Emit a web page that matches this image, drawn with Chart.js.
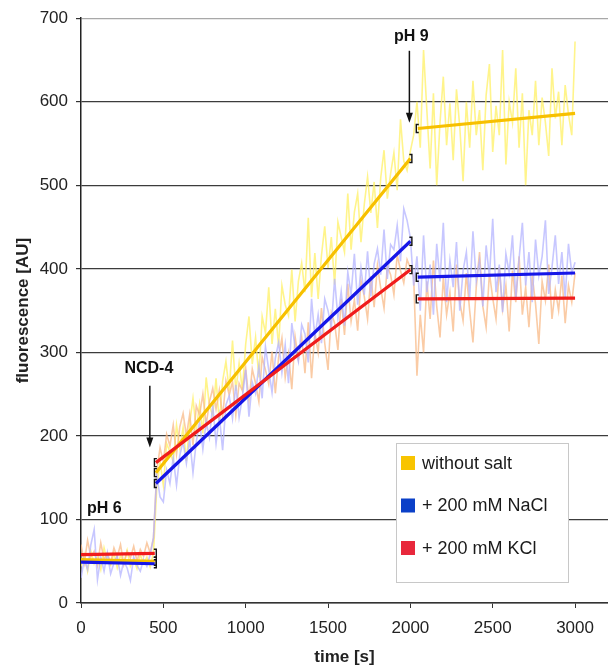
<!DOCTYPE html>
<html>
<head>
<meta charset="utf-8">
<title>fluorescence vs time</title>
<script src="https://cdn.jsdelivr.net/npm/chart.js@4/dist/chart.umd.min.js"></script>
<style>
  body { margin: 0; background: #fff; }
  #wrap { width: 608px; height: 668px; }
</style>
</head>
<body>
<div id="wrap"><canvas id="chart" width="608" height="668"></canvas></div>
<script>
// ===== data =====

// raw traces, one value every SAMPLE_STEP seconds from t = 0 to 3000 s
const SAMPLE_STEP = 20;

const traceYellow = [
  // pH 6 (0-440 s)
  44, 58, 38, 62, 47, 55, 40, 66, 50, 45, 60, 42, 57, 48, 63, 44, 52, 41, 58, 47, 55, 43, 60,
  // NCD-4 (460-2000 s)
  138, 169, 141, 191, 181, 169, 213, 185, 210, 170, 215, 245, 207, 238, 203, 270, 236, 224, 269, 214,
  266, 289, 254, 314, 254, 287, 255, 310, 343, 286, 318, 270, 343, 323, 378, 310, 352, 307, 380, 357,
  344, 399, 337, 385, 407, 372, 461, 366, 419, 364, 416, 451, 401, 438, 381, 456, 438, 420, 490, 423,
  468, 490, 432, 477, 510, 467, 504, 449, 509, 542, 484, 514, 539, 494, 579, 529, 518, 541,
  // pH 9 (2020-3000 s)
  560, 600, 545, 662, 590, 520, 610, 500, 575, 630, 548, 598, 530, 615, 570, 505, 600, 545, 625, 560,
  590, 518, 608, 645, 540, 595, 560, 662, 525, 600, 575, 640, 545, 610, 500, 590, 560, 625, 548, 605,
  575, 535, 640, 580, 612, 548, 620, 585, 560, 672
];

const traceBlue = [
  30, 52, 40, 70, 88, 28, 55, 38, 60, 35, 48, 56, 33, 50, 42, 27, 55, 45, 38, 52, 44, 58, 78,
  153, 127, 121, 159, 143, 174, 141, 177, 193, 167, 196, 156, 193, 217, 184, 217, 198, 237, 191, 224,
  183, 237, 248, 221, 261, 222, 246, 279, 223, 264, 251, 284, 245, 307, 279, 252, 293, 312, 276, 309,
  263, 335, 306, 289, 333, 322, 288, 364, 318, 345, 311, 364, 350, 330, 388, 341, 373, 332, 396, 369,
  418, 357, 401, 369, 421, 367, 406, 424, 393, 447, 388, 429, 423, 452, 409, 472, 458, 437,
  380, 415, 350, 440, 372, 405, 345, 430, 385, 455, 360, 410, 378, 432, 350, 398, 420, 365, 445, 385,
  410, 355, 428, 390, 460, 372, 405, 348, 418, 395, 440, 365, 412, 455, 380, 420, 360, 435, 392, 415,
  458, 370, 402, 440, 382, 420, 365, 430, 395, 408
];

const traceRed = [
  70, 48, 75, 55, 62, 45, 72, 52, 60, 48, 66, 55, 70, 46, 62, 54, 68, 50, 64, 56, 72, 60, 78,
  158, 186, 169, 202, 188, 213, 178, 211, 227, 200, 226, 189, 236, 225, 250, 213, 241, 257, 232, 255,
  223, 266, 249, 265, 225, 263, 254, 281, 242, 280, 263, 241, 294, 279, 262, 301, 251, 294, 317, 270,
  298, 256, 319, 292, 318, 275, 336, 269, 324, 300, 353, 311, 279, 347, 335, 303, 364, 321, 382, 337,
  363, 326, 386, 367, 340, 391, 354, 404, 377, 353, 403, 393, 369, 417, 398, 383, 411, 401,
  390, 272, 345, 300, 385, 340, 410, 355, 318, 390, 345, 372, 325, 405, 360, 338, 395, 350, 312, 378,
  420, 355, 330, 395, 365, 340, 402, 352, 380, 325, 398, 360, 415, 345, 378, 330, 392, 358, 310, 385,
  362, 405, 340, 375, 350, 392, 335, 380, 360, 395
];

// linear fits: [start, end] of each segment, then start/end values per series
const fitSegments = [[0, 448], [455, 2000], [2045, 3000]];
const fitYellow = [52, 50, 156, 532, 568, 586];
const fitBlue   = [49, 47, 143, 433, 390, 395];
const fitRed    = [58, 59.5, 168, 399, 364, 365];

const xTicks = [0, 500, 1000, 1500, 2000, 2500, 3000];
const legendLabels = ['without salt', '+ 200 mM NaCl', '+ 200 mM KCl'];

// text marks: [label, t, value, align]
const notes = [['pH 6', 36, 113, 'left'], ['NCD-4', 412, 280, 'center'], ['pH 9', 2006, 678, 'center']];
// arrows: [t, from, to]
const arrows = [[418, 260, 186], [1994, 661, 575]];

// ===== helpers =====
const toPoints = arr => arr.map((v, i) => ({ x: i * SAMPLE_STEP, y: v }));

function fitPoints(vals) {
  const pts = [];
  fitSegments.forEach((seg, i) => {
    if (i) pts.push({ x: seg[0] - 1, y: null });
    pts.push({ x: seg[0], y: vals[2 * i] }, { x: seg[1], y: vals[2 * i + 1] });
  });
  return pts;
}

const FONT = "'Liberation Sans', Arial, sans-serif";
Chart.defaults.font.family = FONT;
Chart.defaults.color = '#222';

const LINE_YELLOW = '#f7c000';
const LINE_BLUE = '#1616e8';
const LINE_RED = '#f01c1c';
const legendColors = ['#f8c400', '#0b40c8', '#e8283c'];

// ---- brackets at fit segment ends, arrows, labels, legend ----
const decorations = {
  id: 'decorations',
  afterDatasetsDraw(chart) {
    const { ctx, scales: { x, y } } = chart;
    ctx.save();

    // brackets "]" at segment ends and "[" at starts (not at 0 and 3000)
    ctx.strokeStyle = '#111';
    ctx.lineWidth = 1.4;
    [fitYellow, fitBlue, fitRed].forEach(vals => {
      const ends = [
        [fitSegments[0][1], vals[1], 1],
        [fitSegments[1][0], vals[2], -1],
        [fitSegments[1][1], vals[3], 1],
        [fitSegments[2][0], vals[4], -1],
      ];
      ends.forEach(([t, v, dir]) => {
        const px = x.getPixelForValue(t) + dir * 1.5;
        const py = y.getPixelForValue(v);
        ctx.beginPath();
        ctx.moveTo(px - dir * 2.5, py - 4);
        ctx.lineTo(px, py - 4);
        ctx.lineTo(px, py + 4);
        ctx.lineTo(px - dir * 2.5, py + 4);
        ctx.stroke();
      });
    });

    // arrows
    ctx.strokeStyle = '#111';
    ctx.fillStyle = '#111';
    ctx.lineWidth = 1.5;
    arrows.forEach(([t, v0, v1]) => {
      const px = x.getPixelForValue(t);
      const y0 = y.getPixelForValue(v0);
      const y1 = y.getPixelForValue(v1);
      ctx.beginPath();
      ctx.moveTo(px, y0);
      ctx.lineTo(px, y1 - 8);
      ctx.stroke();
      ctx.beginPath();
      ctx.moveTo(px - 3.5, y1 - 10);
      ctx.lineTo(px + 3.5, y1 - 10);
      ctx.lineTo(px, y1);
      ctx.closePath();
      ctx.fill();
    });

    // labels
    ctx.font = 'bold 16px ' + FONT;
    ctx.textBaseline = 'middle';
    notes.forEach(([txt, t, v, align]) => {
      ctx.textAlign = align;
      ctx.fillText(txt, x.getPixelForValue(t), y.getPixelForValue(v));
    });
    ctx.restore();
  },
  afterDraw(chart) {
    const { ctx } = chart;
    ctx.save();
    // legend box
    const bx = 396.5, by = 443.5, bw = 172, bh = 139;
    ctx.fillStyle = '#fff';
    ctx.fillRect(bx, by, bw, bh);
    ctx.strokeStyle = '#c8c8c8';
    ctx.lineWidth = 1;
    ctx.strokeRect(bx, by, bw, bh);
    ctx.font = '18px ' + FONT;
    ctx.textBaseline = 'middle';
    ctx.textAlign = 'left';
    legendLabels.forEach((lab, i) => {
      const cy = 463 + i * 42.5;
      ctx.fillStyle = legendColors[i];
      ctx.fillRect(401, cy - 7, 14, 14);
      ctx.fillStyle = '#1a1a1a';
      ctx.fillText(lab, 422, cy + 1);
    });
    ctx.restore();
  }
};

const noise = (data, color, order) => ({
  data: toPoints(data), borderColor: color, borderWidth: 1.6,
  pointRadius: 0, tension: 0, order,
});
const fit = (vals, color, order) => ({
  data: fitPoints(vals), borderColor: color, borderWidth: 3.2,
  pointRadius: 0, tension: 0, spanGaps: false, order,
});

new Chart(document.getElementById('chart'), {
  type: 'line',
  data: {
    datasets: [
      noise(traceYellow, 'rgba(255, 240, 100, 0.75)', 7),
      noise(traceRed, 'rgba(248, 185, 135, 0.75)', 6),
      noise(traceBlue, 'rgba(180, 180, 255, 0.75)', 5),
      fit(fitYellow, LINE_YELLOW, 3),
      fit(fitBlue, LINE_BLUE, 2),
      fit(fitRed, LINE_RED, 1),
    ],
  },
  options: {
    responsive: false,
    animation: false,
    layout: { padding: { top: 15, right: 0, left: 0, bottom: 0 } },
    plugins: { legend: { display: false }, tooltip: { enabled: false } },
    scales: {
      x: {
        type: 'linear',
        min: 0,
        max: 3200,
        afterBuildTicks: s => { s.ticks = xTicks.map(v => ({ value: v })); },
        afterFit: s => { s.height = 65; },
        ticks: { font: { size: 17 }, color: '#222', padding: 10, maxRotation: 0, autoSkip: false, callback: v => String(v) },
        grid: { drawOnChartArea: false, drawTicks: true, tickLength: 5, tickColor: '#333' },
        border: { color: '#333', width: 1.5 },
        title: { display: true, text: 'time [s]', font: { size: 17, weight: 'bold' }, color: '#222', padding: { top: 0, bottom: 0 } },
      },
      y: {
        type: 'linear',
        min: 0,
        max: 700,
        afterFit: s => { s.width = 81; },
        ticks: { stepSize: 100, font: { size: 17 }, color: '#222', padding: 8 },
        grid: {
          color: c => (c.tick && c.tick.value === 700 ? '#a8a8a8' : '#3c3c3c'),
          lineWidth: 1.2,
          drawTicks: true,
          tickLength: 5,
          tickColor: '#333',
        },
        border: { color: '#222', width: 1.5 },
        title: { display: true, text: 'fluorescence [AU]', font: { size: 17, weight: 'bold' }, color: '#222', padding: { top: 13, bottom: 0 } },
      },
    },
  },
  plugins: [decorations],
});
</script>
</body>
</html>
